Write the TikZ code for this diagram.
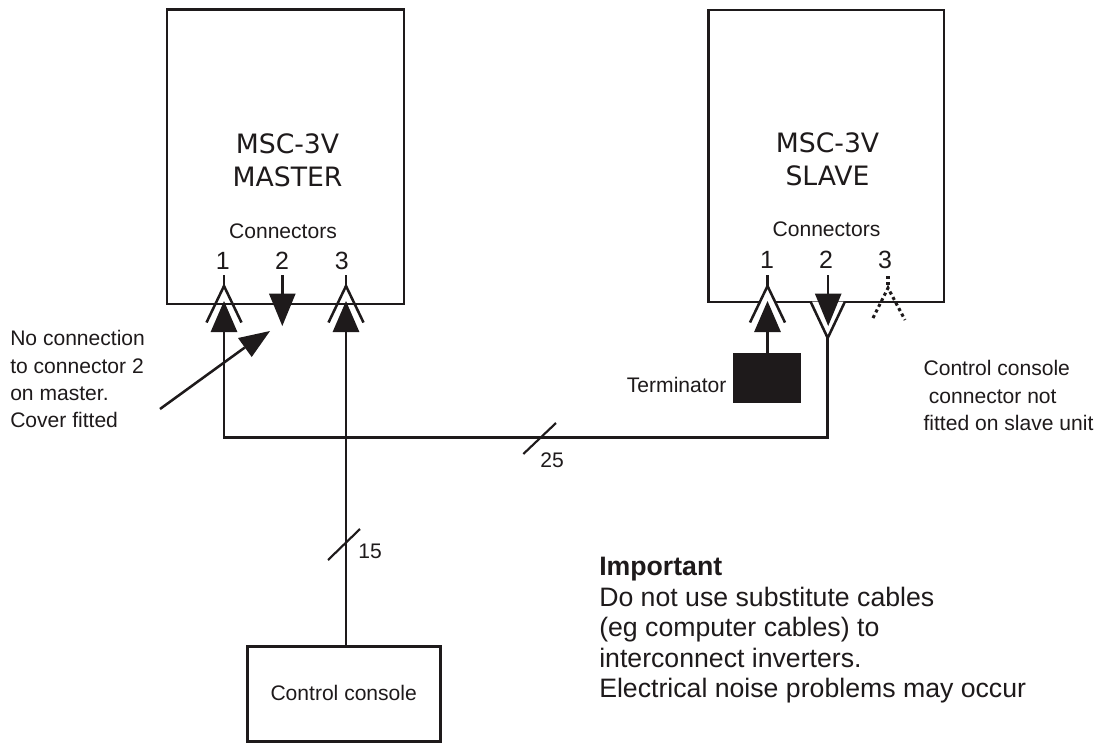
\documentclass[tikz,border=0pt]{standalone}
\usepackage{fontspec}
\setmainfont{Liberation Sans}
\newfontfamily\verd{DejaVu Sans}
\definecolor{ink}{RGB}{30,26,27}
\tikzset{
  x=0.75pt,y=-0.75pt,
  wire/.style={line width=1.9pt,ink,line join=miter},
  boxn/.style={draw=ink,line width=2pt,fill=none,inner sep=0pt,outer sep=0pt,anchor=north west},
  thinln/.style={line width=1.6pt,ink},
  tri/.style={fill=ink,draw=none},
  dotln/.style={line width=2.3pt,ink,dash pattern=on 2.4pt off 2.3pt},
  lab/.style={font=\fontsize{15.8}{20.6}\selectfont,inner sep=0pt,align=left,text=ink},
  num/.style={font=\fontsize{18.7}{22}\selectfont,inner sep=0pt,text=ink},
  big/.style={font=\verd\fontsize{20}{24.5}\selectfont,inner sep=0pt,align=center,text=ink},
  imp/.style={font=\fontsize{20}{22.9}\selectfont,inner sep=0pt,align=left,anchor=north west,text=ink},
}
\newcommand{\upconn}[3]{% x, name, inner fill
  \coordinate (#2top) at (#1,275);
  \coordinate (#2v) at (#1,286);
  \coordinate (#2apex) at (#1,301);
  \coordinate (#2base) at (#1,332);
  \path[fill=#3] (#1-17.5,322.5) -- (#2v) -- (#1+17.5,322.5) -- cycle;
  \draw[wire] (#2top) -- (#2v);
  \draw[wire] (#1-17.5,322.5) -- (#2v) -- (#1+17.5,322.5);
  \fill[tri] (#2apex) -- (#1+13.4,332) -- (#1-13.4,332) -- cycle;
}
\newcommand{\downtri}[2]{%
  \coordinate (#2top) at (#1,275);
  \coordinate (#2base) at (#1,293.5);
  \coordinate (#2apex) at (#1,326);
  \draw[wire] (#2top) -- (#2base);
  \fill[tri] (#1-13.4,293.5) -- (#1+13.4,293.5) -- (#2apex) -- cycle;
}
\begin{document}
\begin{tikzpicture}
\useasboundingbox (0,0) rectangle (1102,743);
\fill[white] (0,0) rectangle (1102,743);
% boxes
\node[boxn,minimum width=177.75pt,minimum height=220.9pt] (master) at (167,9.5) {};
\node[boxn,line width=1.8pt,minimum width=176.75pt,minimum height=219.2pt] (slave) at (708.3,10) {};
\node[boxn,line width=1.8pt,minimum width=144.75pt,minimum height=71.25pt] (console) at (247.3,646.5) {};
\node[boxn,fill=ink,draw=none,minimum width=51pt,minimum height=37.5pt] (term) at (732.7,353) {};
\node[big] (mastertxt) at (287.5,160.5) {MSC-3V\\MASTER};
\node[big] (slavetxt) at (827.5,159) {MSC-3V\\SLAVE};
\node[lab] (mc) at (283,231) {Connectors};
\node[lab] (sc) at (826.5,229.5) {Connectors};
\node[num] (m1) at (222.7,260.5) {1};
\node[num] (m2) at (282,260.5) {2};
\node[num] (m3) at (341.7,260.5) {3};
\node[num] (s1) at (767,259.5) {1};
\node[num] (s2) at (826,259.5) {2};
\node[num] (s3) at (885,259.5) {3};
\upconn{224}{ma}{none}
\downtri{282.3}{mb}
\upconn{346}{mc3}{none}
\upconn{767.5}{sa}{white}
% slave 2 receptacle
\coordinate (sbv) at (827.7,338);
\fill[white] (810.5,301.5) -- (sbv) -- (845,301.5) -- cycle;
\draw[wire] (810.5,301.5) -- (sbv) -- (845,301.5);
\downtri{828.2}{sb}
% dotted conn 3
\coordinate (sd) at (888,288);
\draw[dotln] (888,276) -- (sd);
\draw[dotln] (873,318) -- (sd) -- (905,320);
% wires
\coordinate (junc) at (224,437.3);
\coordinate (jr) at (827.7,437.3);
\draw[wire] (mabase) -- (junc) -- (jr) -- (sbv);
\draw[wire] (mc3base) -- (mc3base |- console.north);
\draw[wire] (sabase) -- (sabase |- term.north);
% pointer
\coordinate (pa) at (160,409);
\coordinate (pb) at (270,331);
\coordinate (pl) at (238,338);
\coordinate (pr) at (251.7,357);
\coordinate (pm) at (244.8,347.5);
\draw[wire] (pa) -- (pm);
\fill[tri] (pb) -- (pl) -- (pr) -- cycle;
% slashes
\draw[thinln] (523.3,454) -- (556,423);
\draw[thinln] (328,560) -- (360,529);
% labels
\node[lab,anchor=north west] (note1) at (10,330) {No connection\\to connector 2\\on master.\\Cover fitted};
\node[lab,anchor=east] (termt) at (726.7,385) {Terminator};
\node[lab,anchor=north west] (note2) at (923.3,360) {Control console\\\hspace*{4pt}connector not\\fitted on slave unit};
\node[lab] (n25) at (552,460) {25};
\node[lab] (n15) at (370,551) {15};
\node[lab] (cc) at (343.7,693) {Control console};
\node[imp] (impt) at (599,557) {\textbf{Important}\\Do not use substitute cables\\(eg computer cables) to\\interconnect inverters.\\Electrical noise problems may occur};
\end{tikzpicture}
\end{document}
